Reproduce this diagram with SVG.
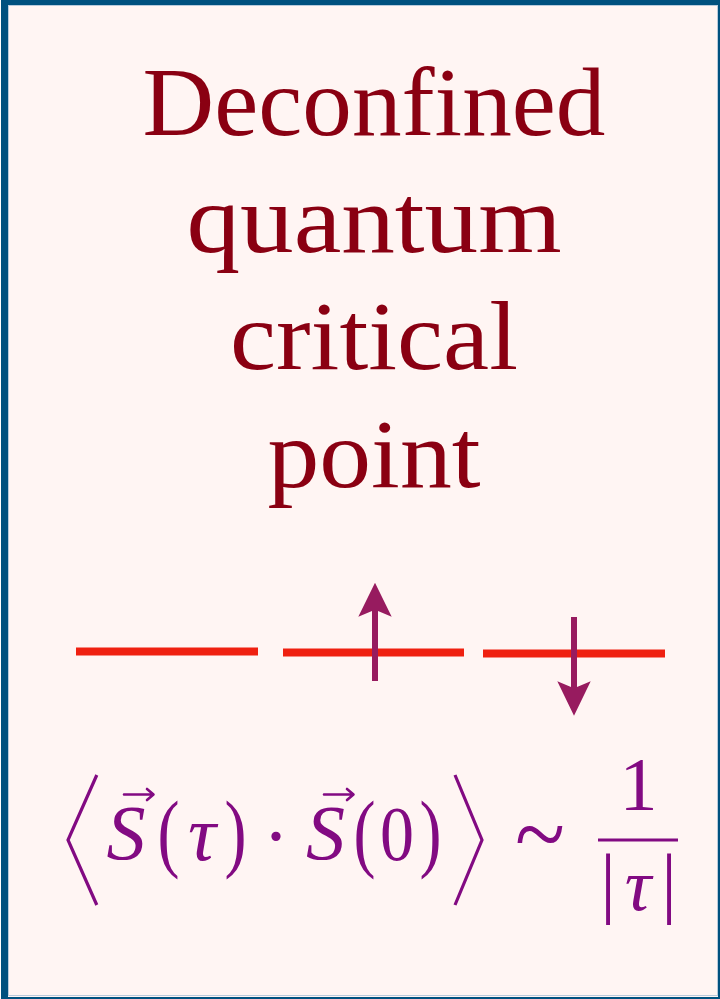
<svg xmlns="http://www.w3.org/2000/svg" width="720" height="999" viewBox="0 0 720 999">
  <style>
    .title { font-family: "Liberation Serif", "Times New Roman", serif; font-size: 98px; fill: #8a0012; text-anchor: middle; }
    .m { font-family: "Liberation Serif", "Times New Roman", serif; fill: #820a82; text-anchor: middle; }
    .mi { font-style: italic; }
    .level { stroke: #ef2010; stroke-width: 8; fill: none; }
    .spin { fill: #971b5f; }
    .delim { stroke: #820a82; stroke-width: 3.2; fill: none; stroke-linejoin: miter; }
    .vec { stroke: #820a82; stroke-width: 2.6; fill: none; stroke-linecap: round; stroke-linejoin: round; }
  </style>
  <rect x="4.5" y="1.5" width="717" height="999" fill="#fff5f3" stroke="#00517f" stroke-width="7"/>
  <rect x="8.5" y="5.5" width="709" height="990" fill="none" stroke="#b9cbdc" stroke-width="1"/>

  <g id="title">
    <text class="title" x="374" y="135" textLength="463" lengthAdjust="spacingAndGlyphs">Deconfined</text>
    <text class="title" x="374" y="252" textLength="375" lengthAdjust="spacingAndGlyphs">quantum</text>
    <text class="title" x="374" y="369" textLength="288" lengthAdjust="spacingAndGlyphs">critical</text>
    <text class="title" x="374" y="487" textLength="213" lengthAdjust="spacingAndGlyphs">point</text>
  </g>

  <g id="levels">
    <line class="level" x1="76" y1="651.5" x2="258" y2="651.5"/>
    <line class="level" x1="283" y1="652.5" x2="464" y2="652.5"/>
    <line class="level" x1="483" y1="653.5" x2="665" y2="653.5"/>
  </g>

  <g id="spin-up">
    <path class="spin" d="M372 681 L372 611 L358.3 616.7 L375 582.7 L391.7 616.7 L378 611 L378 681 Z"/>
  </g>
  <g id="spin-down">
    <path class="spin" d="M571 617 L571 687 L557.3 681.3 L574 715.7 L590.7 681.3 L577 687 L577 617 Z"/>
  </g>

  <g id="formula">
    <polyline class="delim" points="96.8,775 68,840 96.8,905"/>
    <text class="m mi" x="126" y="859" font-size="78">S</text>
    <path class="vec" d="M124 794.5 L153 794.5 M147 789 L153.5 794.5 L147 800"/>
    <text class="m" x="168.5" y="861" font-size="86" textLength="22" lengthAdjust="spacingAndGlyphs">(</text>
    <text class="m mi" x="202" y="860" font-size="78">τ</text>
    <text class="m" x="235.5" y="861" font-size="86" textLength="22" lengthAdjust="spacingAndGlyphs">)</text>
    <text class="m" x="276" y="862" font-size="78">·</text>
    <text class="m mi" x="325.5" y="859" font-size="78">S</text>
    <path class="vec" d="M324 794.5 L353 794.5 M347 789 L353.5 794.5 L347 800"/>
    <text class="m" x="364.5" y="861" font-size="86" textLength="22" lengthAdjust="spacingAndGlyphs">(</text>
    <text class="m" x="397" y="860" font-size="78" textLength="34" lengthAdjust="spacingAndGlyphs">0</text>
    <text class="m" x="430.5" y="861" font-size="86" textLength="22" lengthAdjust="spacingAndGlyphs">)</text>
    <polyline class="delim" points="455,775 482,840 455,905"/>
    <text class="m" x="540" y="867" font-size="100" textLength="50" lengthAdjust="spacingAndGlyphs">~</text>
    <text class="m" x="638.5" y="810" font-size="76">1</text>
    <line x1="598" y1="840" x2="678" y2="840" stroke="#820a82" stroke-width="3"/>
    <text class="m" x="608" y="908" font-size="78">|</text>
    <text class="m mi" x="638" y="910" font-size="74">τ</text>
    <text class="m" x="669" y="908" font-size="78">|</text>
  </g>
</svg>
